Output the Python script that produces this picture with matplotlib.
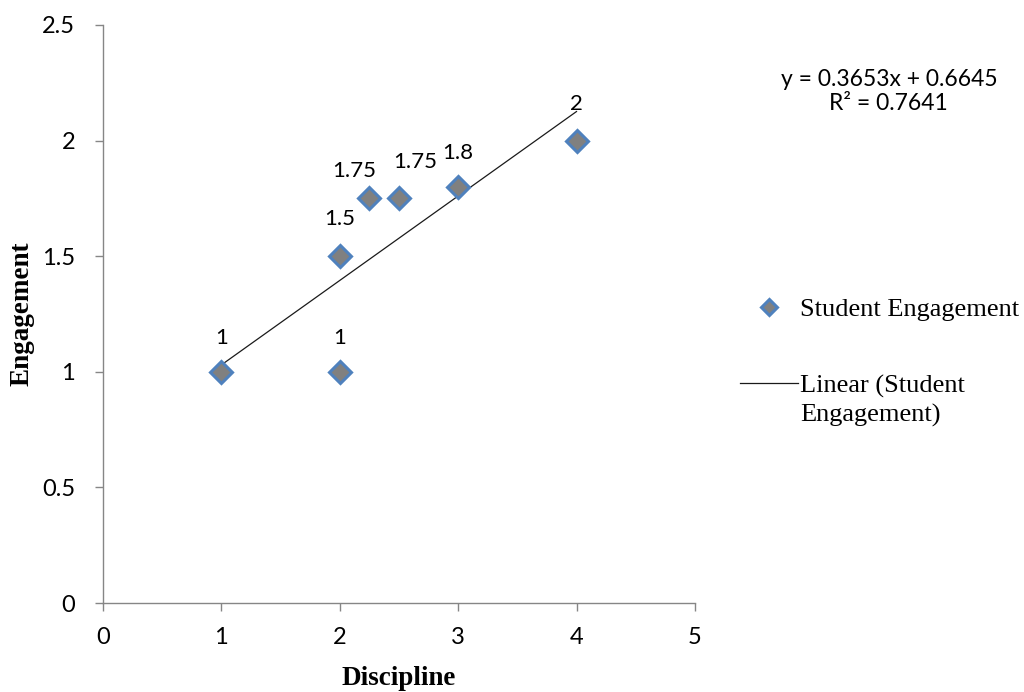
import matplotlib
matplotlib.use("Agg")
import matplotlib.pyplot as plt
import numpy as np

# data
discipline = [1, 2, 2, 2.25, 2.5, 3, 4]
engagement = [1, 1, 1.5, 1.75, 1.75, 1.8, 2]
point_labels = ["1", "1", "1.5", "1.75", "1.75", "1.8", "2"]
# label nudges (points) so overlapping labels sit like Excel placed them
label_dx = [0, 0, 0, -11, 11.5, 0, 0]
label_dy = [24.5, 24.5, 26.5, 19.5, 26, 24.5, 26.5]

slope, intercept = 0.3653, 0.6645
r2 = 0.7641

x_ticks = [0, 1, 2, 3, 4, 5]
y_ticks = [0, 0.5, 1, 1.5, 2, 2.5]

GREY = "#868686"
SANS = "Lato"
SERIF = "Liberation Serif"

fig = plt.figure(figsize=(10.24, 6.92), dpi=100)
ax = fig.add_axes([0.1006, 0.1286, 0.578, 0.8353])

xs = np.array([min(discipline), max(discipline)])
line, = ax.plot(xs, slope * xs + intercept, color="#1a1a1a", lw=0.9,
                label="Linear (Student", zorder=2)
pts, = ax.plot(discipline, engagement, ls="none", marker="D", ms=11,
               mfc="#808080", mec="#4F81BD", mew=2.2,
               label="Student Engagement", zorder=3)

for x, y, lab, dx, dy in zip(discipline, engagement, point_labels, label_dx, label_dy):
    ax.annotate(lab, (x, y), xytext=(dx, dy), textcoords="offset points",
                ha="center", va="center", fontsize=16, family=SANS)

ax.set_xlim(0, 5)
ax.set_ylim(0, 2.5)
ax.set_xticks(x_ticks)
ax.set_yticks(y_ticks)
ax.set_xticklabels([str(t) for t in x_ticks])
ax.set_yticklabels([f"{t:g}" for t in y_ticks])
for lab in ax.get_xticklabels() + ax.get_yticklabels():
    lab.set_family(SANS)
    lab.set_fontsize(17)
ax.tick_params(color=GREY, length=6, width=1)
ax.tick_params(axis="x", pad=11)
ax.tick_params(axis="y", pad=14)

for side in ("top", "right"):
    ax.spines[side].set_visible(False)
for side in ("left", "bottom"):
    ax.spines[side].set_color(GREY)
    ax.spines[side].set_linewidth(1)

ax.set_xlabel("Discipline", family=SERIF, fontweight="bold", fontsize=19.5, va="center")
ax.set_ylabel("Engagement", family=SERIF, fontweight="bold", fontsize=19.5, va="center")
ax.xaxis.set_label_coords(0.5, -0.13)
ax.yaxis.set_label_coords(-0.137, 0.5)

fig.text(0.868, 0.868, f"y = {slope}x + {intercept}\nR² = {r2}", ha="center", va="center",
         family=SANS, fontsize=16.5, linespacing=1.2)

leg = fig.legend(handles=[pts, line], loc="upper left", bbox_to_anchor=(0.699, 0.604),
                 frameon=False, prop={"family": SERIF, "size": 19},
                 handlelength=2.2, handletextpad=0.1, labelspacing=2.0,
                 markerscale=0.7)

# Excel wraps the trendline entry; continue it on a second line under the first
fig.canvas.draw()
bb = leg.get_texts()[1].get_window_extent()
fig.text(bb.x0 / fig.bbox.width, (bb.y0 - 29) / fig.bbox.height, "Engagement)",
         family=SERIF, fontsize=19, ha="left", va="bottom")

fig.savefig("out.png", dpi=100)
